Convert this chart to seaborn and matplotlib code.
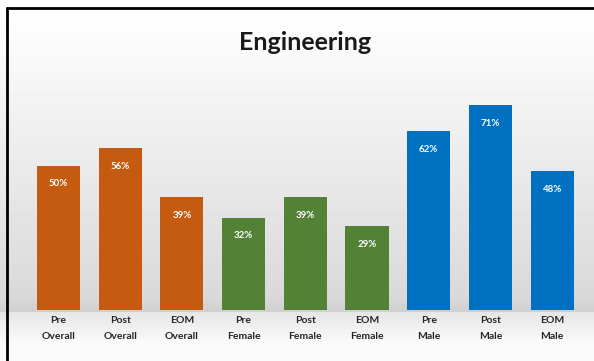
import numpy as np
import pandas as pd
import matplotlib
matplotlib.use("Agg")
import matplotlib.pyplot as plt
import seaborn as sns
from matplotlib.lines import Line2D

# ---- data ----
stages = ["Pre", "Post", "EOM", "Pre", "Post", "EOM", "Pre", "Post", "EOM"]
groups = ["Overall", "Overall", "Overall", "Female", "Female", "Female", "Male", "Male", "Male"]
values = [50, 56, 39, 32, 39, 29, 62, 71, 48]
group_colors = {"Overall": "#C55A11", "Female": "#538135", "Male": "#0070C0"}

labels = [f"{s}\n{g}" for s, g in zip(stages, groups)]
df = pd.DataFrame({"label": labels, "group": groups, "value": values})

sns.set_theme(style="white")
plt.rcParams["font.family"] = ["Lato", "DejaVu Sans"]

W, H = 594, 361
fig = plt.figure(figsize=(W / 100, H / 100), dpi=100)

# background gradient
bg = fig.add_axes([0, 0, 1, 1], zorder=-10)
ys = np.arange(H)
col = np.ones(H)
for i, y in enumerate(ys):
    if y < 9:
        col[i] = 1.0
    elif y < 298:
        col[i] = 1.0 - 0.15 * (y - 9) / (298 - 9)
    elif y < 312:
        col[i] = 0.85 - 0.04 * (y - 298) / 14
    else:
        col[i] = 0.90 + 0.08 * min(1, (y - 312) / 30)
img = np.repeat(col[:, None], 2, axis=1)
bg.imshow(img, cmap="gray", vmin=0, vmax=1, aspect="auto", extent=[0, 1, 0, 1], origin="upper")
bg.set_axis_off()

# frame lines
fig.add_artist(Line2D([7 / W, 1.0], [1 - 8 / H, 1 - 8 / H], color="black", lw=2, transform=fig.transFigure))
fig.add_artist(Line2D([7 / W, 7 / W], [0, 1 - 8 / H], color="black", lw=2, transform=fig.transFigure))

# main axes
left_px, right_px = 27.6, 583
base_px = 310
ymax = 80
px_per = 2.887
ax = fig.add_axes([left_px / W, (H - base_px) / H, (right_px - left_px) / W, ymax * px_per / H])
ax.set_facecolor("none")

sns.barplot(data=df, x="label", y="value", hue="group", palette=group_colors,
            dodge=False, width=0.7, legend=False, ax=ax, saturation=1, linewidth=0)
ax.set_xlim(-0.5, 8.5)
ax.set_ylim(0, ymax)

for i, v in enumerate(values):
    ax.annotate(f"{v}%", (i, v), xytext=(0, -18), textcoords="offset pixels",
                ha="center", va="center", color="white", fontsize=7, fontweight="bold")

ax.set_xlabel("")
ax.set_ylabel("")
ax.set_yticks([])
ax.tick_params(axis="x", length=0, pad=4, labelsize=7.5)
for t in ax.get_xticklabels():
    t.set_fontweight("bold")
    t.set_linespacing(2.0)
for s in ax.spines.values():
    s.set_visible(False)

fig.text(305 / W, 1 - 43 / H, "Engineering", ha="center", va="center",
         fontsize=18, fontweight="bold", color="#1a1a1a")

fig.savefig("out.png", dpi=100)
